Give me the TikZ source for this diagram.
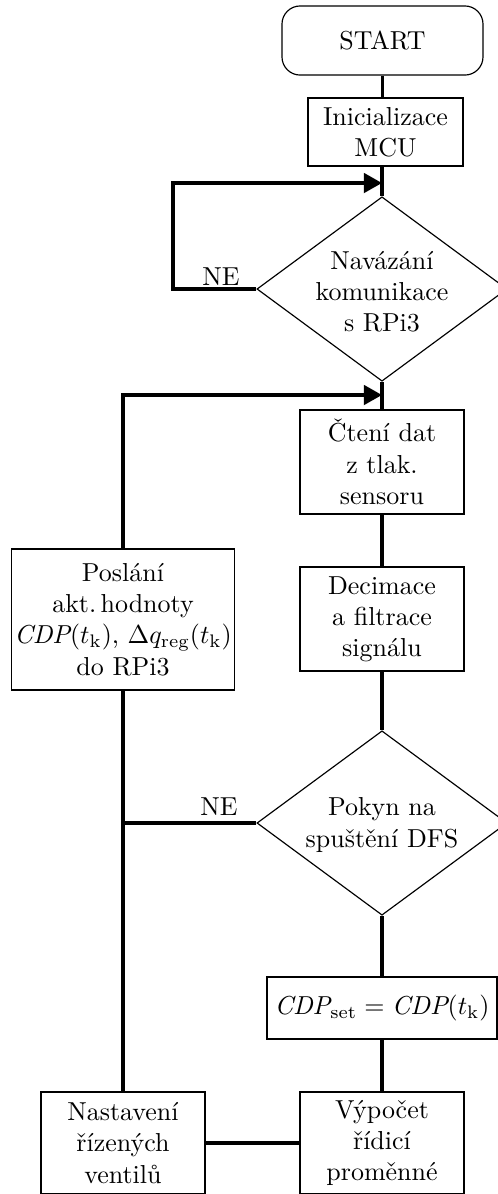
\documentclass[tikz,border=0pt]{standalone}
\usepackage{fontspec}
\usetikzlibrary{shapes.geometric,arrows.meta}
\begin{document}
\begin{tikzpicture}[x=0.385pt,y=-0.385pt,
  proc/.style={draw, line width=0.45pt, align=center, inner sep=1pt, minimum width=63.1pt, minimum height=40pt},
  term/.style={proc, rounded corners=7pt, minimum width=77.4pt, minimum height=26.6pt},
  dec/.style={draw, line width=0.45pt, shape=diamond, inner sep=0pt, minimum width=96.3pt, minimum height=71pt},
  dtext/.style={align=center, inner sep=0pt},
  conn/.style={line width=1.35pt},
  arr/.style={conn, -{Triangle[length=7pt,width=7.5pt]}}]
\useasboundingbox (0,0) rectangle (498,1194);
\clip (0,0) rectangle (498,1194);
% nodes
\node[term] (start) at (382.5,40.5) {START};
\node[proc, minimum width=59.7pt, minimum height=26.2pt] (init) at (385.5,132) {Inicializace\\MCU};
\node[dec] (d1) at (382,289) {};
\node[dtext] (d1t) at (382,292) {Navázání\\komunikace\\s RPi3};
\node[proc] (cteni) at (382,462) {Čtení dat\\z tlak.\\sensoru};
\node[proc] (deci) at (382,619) {Decimace\\a filtrace\\signálu};
\node[proc, minimum width=85.5pt, minimum height=54.3pt] (posl) at (123,619.5) {Poslání\\akt.\,hodnoty\\$\mathit{CDP}(t_\mathrm{k})$, $\Delta q_\mathrm{reg}(t_\mathrm{k})$\\do RPi3};
\node[dec] (d2) at (382,823) {};
\node[dtext] (d2t) at (382,825) {Pokyn na\\spuštění DFS};
\node[proc, minimum width=88.6pt, minimum height=23.9pt] (cdp) at (382,1008) {$\mathit{CDP}_\mathrm{set} = \mathit{CDP}(t_\mathrm{k})$};
\node[proc, minimum height=39.3pt] (vyp) at (382,1143) {Výpočet\\řídicí\\proměnné};
\node[proc, minimum height=39.3pt] (nast) at (123,1143) {Nastavení\\řízených\\ventilů};
\node (ne1) at (221,277) {NE};
\node (ne2) at (219,807) {NE};
% helper coordinates
\coordinate (l1) at (173,183);
\coordinate (j1) at (382,183);
\coordinate (j2) at (382,395);
% connectors
\draw[conn] (start.south) -- (start.south |- init.north);
\draw[conn] (init.south -| d1.north) -- (d1.north);
\draw[arr] (d1.west) -| (l1) -- (j1);
\draw[conn] (d1.south) -- (cteni.north);
\draw[arr] (posl.north) |- (j2);
\draw[conn] (cteni.south) -- (deci.north);
\draw[conn] (deci.south) -- (d2.north);
\draw[conn] (d2.south) -- (cdp.north);
\draw[conn] (cdp.south) -- (vyp.north);
\draw[conn] (d2.west) -- (posl.south |- d2.west);
\draw[conn] (posl.south) -- (nast.north);
\draw[conn] (nast.east) -- (vyp.west);
\end{tikzpicture}
\end{document}
